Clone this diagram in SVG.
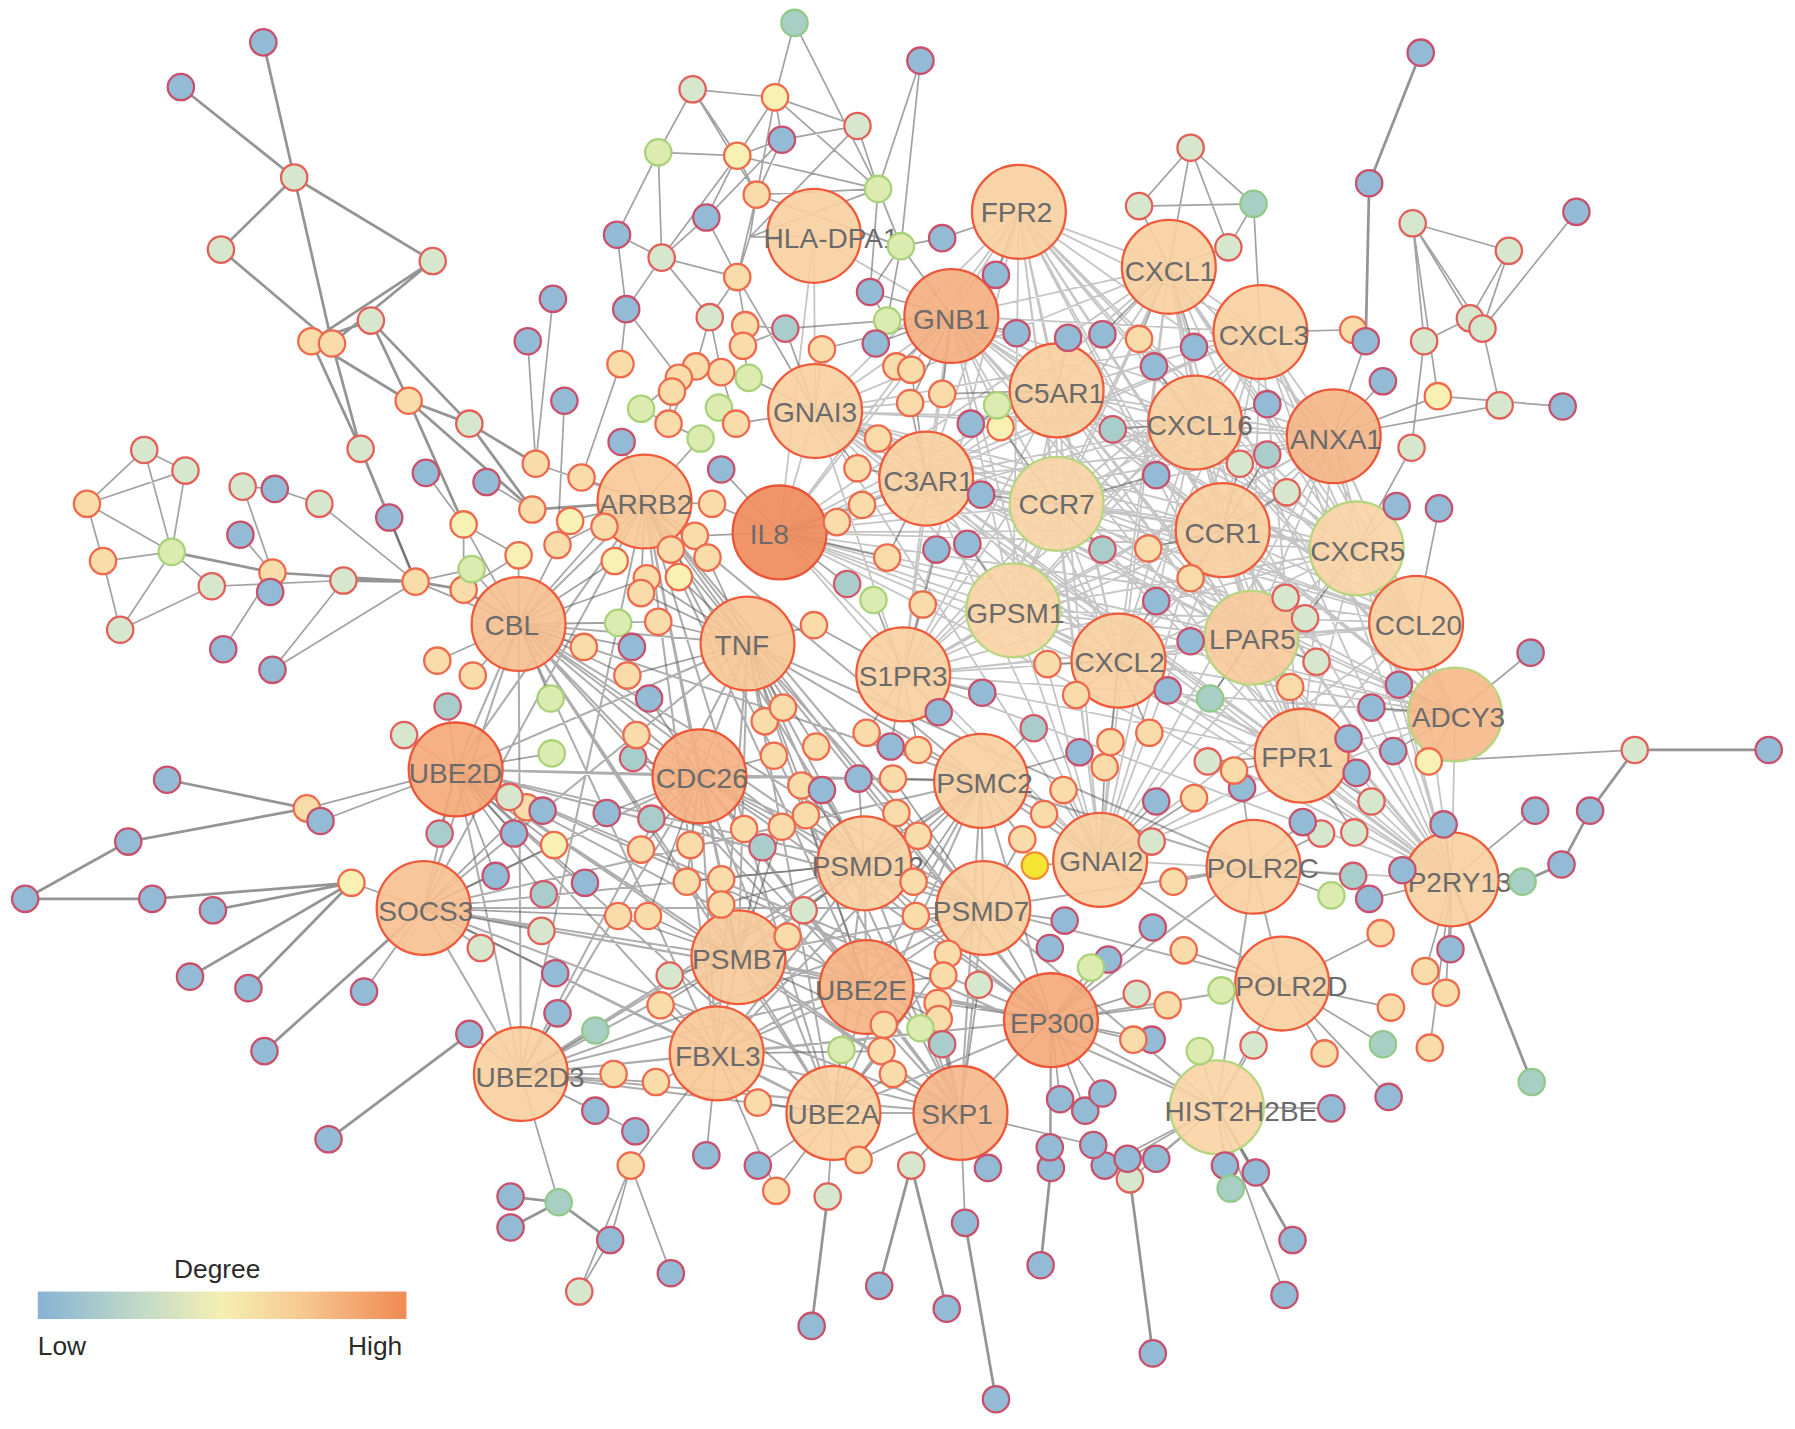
<svg xmlns="http://www.w3.org/2000/svg" width="1795" height="1429" viewBox="0 0 1795 1429">
<defs>
<linearGradient id="deg" x1="0" y1="0" x2="1" y2="0">
<stop offset="0" stop-color="#86b3d4"/><stop offset="0.3" stop-color="#c6dcc6"/><stop offset="0.5" stop-color="#f5efb2"/><stop offset="0.72" stop-color="#f6c890"/><stop offset="1" stop-color="#ef8a52"/>
</linearGradient>
<style>
.hh{fill:none;stroke:#4a4a4a;stroke-opacity:0.32;stroke-width:1.6}
.hu{fill:none;stroke:#4a4a4a;stroke-opacity:0.45;stroke-width:1.8}
.se{fill:none;stroke:#555;stroke-opacity:0.55;stroke-width:1.5}
.pe{fill:none;stroke:#5a5a5a;stroke-opacity:0.65;stroke-width:2.4}
.s{stroke-width:2}
.b{fill:#93bbd6;stroke:#c9506b}
.t{fill:#a9cdca;stroke:#d4586a}
.p{fill:#d7e7cd;stroke:#e2605a}
.g{fill:#dcecb0;stroke:#a9d27a}
.y{fill:#f9f0b4;stroke:#ef6a4a}
.o{fill:#f9dcaa;stroke:#ee6a4c}
.G{fill:#a8cfc4;stroke:#92c98a}
.Y{fill:#f5e434;stroke:#f0902c}
.h{fill:#f9cfa0;stroke:#ef5a3a;stroke-width:2;fill-opacity:0.9}
.hd{fill:#f5ae80;stroke:#ec5538;stroke-width:2;fill-opacity:0.9}
.hi{fill:#ef8c5c;stroke:#e8553a;stroke-width:2;fill-opacity:0.92}
.hg{fill:#f9d3a4;stroke:#b5d67e;stroke-width:2;fill-opacity:0.9}
.lb{font-family:"Liberation Sans",Arial,sans-serif;font-size:24.5px;fill:#6b6b6b;text-anchor:middle}
.lg{font-family:"Liberation Sans",Arial,sans-serif;font-size:23px;fill:#2a2a2a}
</style>
</defs>
<rect width="1795" height="1429" fill="#ffffff"/>
<g transform="scale(1.1448 1.145)">
<g id="connectors">
<path class="hh" d="M890 185L1021 233M890 185L831 276M890 185L1101 290M890 185L923 341M890 185L712 359M890 185L1044 369M890 185L1165 381M890 185L809 418M890 185L923 440M890 185L681 465M890 185L1068 463M890 185L1185 479M890 185L885 533M890 185L977 577M890 185L1093 557M890 185L1237 544M890 185L789 589M890 185L1271 624M890 185L1137 660M890 185L961 751M890 185L1268 768
M1021 233L831 276M1021 233L1101 290M1021 233L923 341M1021 233L712 359M1021 233L1044 369M1021 233L1165 381M1021 233L809 418M1021 233L923 440M1021 233L681 465M1021 233L1068 463M1021 233L1185 479M1021 233L885 533M1021 233L977 577M1021 233L1093 557M1021 233L1237 544M1021 233L789 589M1021 233L1271 624M1021 233L1137 660M1021 233L961 751M1021 233L1268 768
M831 276L1101 290M831 276L923 341M831 276L712 359M831 276L1044 369M831 276L1165 381M831 276L809 418M831 276L923 440M831 276L681 465M831 276L1068 463M831 276L1185 479M831 276L885 533M831 276L977 577M831 276L1093 557M831 276L1237 544M831 276L789 589M831 276L1271 624M831 276L1137 660M831 276L961 751M831 276L1268 768M831 276L711 206
M1101 290L923 341M1101 290L712 359M1101 290L1044 369M1101 290L1165 381M1101 290L809 418M1101 290L923 440M1101 290L681 465M1101 290L1068 463M1101 290L1185 479M1101 290L885 533M1101 290L977 577M1101 290L1093 557M1101 290L1237 544M1101 290L789 589M1101 290L1271 624M1101 290L1137 660M1101 290L961 751M1101 290L1268 768
M923 341L712 359M923 341L1044 369M923 341L1165 381M923 341L809 418M923 341L923 440M923 341L681 465M923 341L1068 463M923 341L1185 479M923 341L885 533M923 341L977 577M923 341L1093 557M923 341L1237 544M923 341L789 589M923 341L1271 624M923 341L1137 660M923 341L961 751M923 341L1268 768
M712 359L1044 369M712 359L1165 381M712 359L809 418M712 359L923 440M712 359L681 465M712 359L1068 463M712 359L1185 479M712 359L885 533M712 359L977 577M712 359L1093 557M712 359L1237 544M712 359L789 589M712 359L1271 624M712 359L1137 660M712 359L961 751M712 359L1268 768M712 359L711 206
M1044 369L1165 381M1044 369L809 418M1044 369L923 440M1044 369L681 465M1044 369L1068 463M1044 369L1185 479M1044 369L885 533M1044 369L977 577M1044 369L1093 557M1044 369L1237 544M1044 369L789 589M1044 369L1271 624M1044 369L1137 660M1044 369L961 751M1044 369L1268 768
M1165 381L809 418M1165 381L923 440M1165 381L681 465M1165 381L1068 463M1165 381L1185 479M1165 381L885 533M1165 381L977 577M1165 381L1093 557M1165 381L1237 544M1165 381L789 589M1165 381L1271 624M1165 381L1137 660M1165 381L961 751M1165 381L1268 768
M809 418L923 440M809 418L681 465M809 418L1068 463M809 418L1185 479M809 418L885 533M809 418L977 577M809 418L1093 557M809 418L1237 544M809 418L789 589M809 418L1271 624M809 418L1137 660M809 418L961 751M809 418L1268 768
M923 440L681 465M923 440L1068 463M923 440L1185 479M923 440L885 533M923 440L977 577M923 440L1093 557M923 440L1237 544M923 440L789 589M923 440L1271 624M923 440L1137 660M923 440L961 751M923 440L1268 768
M681 465L1068 463M681 465L1185 479M681 465L885 533M681 465L977 577M681 465L1093 557M681 465L1237 544M681 465L789 589M681 465L1271 624M681 465L1137 660M681 465L961 751M681 465L1268 768M681 465L711 206
M1068 463L1185 479M1068 463L885 533M1068 463L977 577M1068 463L1093 557M1068 463L1237 544M1068 463L789 589M1068 463L1271 624M1068 463L1137 660M1068 463L961 751M1068 463L1268 768
M1185 479L885 533M1185 479L977 577M1185 479L1093 557M1185 479L1237 544M1185 479L789 589M1185 479L1271 624M1185 479L1137 660M1185 479L961 751M1185 479L1268 768
M885 533L977 577M885 533L1093 557M885 533L1237 544M885 533L789 589M885 533L1271 624M885 533L1137 660M885 533L961 751M885 533L1268 768
M977 577L1093 557M977 577L1237 544M977 577L789 589M977 577L1271 624M977 577L1137 660M977 577L961 751M977 577L1268 768
M1093 557L1237 544M1093 557L789 589M1093 557L1271 624M1093 557L1137 660M1093 557L961 751M1093 557L1268 768
M1237 544L789 589M1237 544L1271 624M1237 544L1137 660M1237 544L961 751M1237 544L1268 768
M789 589L1271 624M789 589L1137 660M789 589L961 751M789 589L1268 768M1271 624L1137 660M1271 624L961 751M1271 624L1268 768M1137 660L961 751M1137 660L1268 768M961 751L1268 768"/>
<path class="hu" d="M563 438L453 545M563 438L653 562M563 438L398 672M563 438L611 678M563 438L857 682M563 438L755 754M563 438L370 793M563 438L859 793M563 438L645 836M563 438L757 862M563 438L918 891M563 438L626 920M563 438L455 938M563 438L728 972M563 438L839 972
M453 545L653 562M453 545L398 672M453 545L611 678M453 545L857 682M453 545L755 754M453 545L370 793M453 545L859 793M453 545L645 836M453 545L757 862M453 545L918 891M453 545L626 920M453 545L455 938M453 545L728 972M453 545L839 972
M653 562L398 672M653 562L611 678M653 562L857 682M653 562L755 754M653 562L370 793M653 562L859 793M653 562L645 836M653 562L757 862M653 562L918 891M653 562L626 920M653 562L455 938M653 562L728 972M653 562L839 972M653 562L1095 757
M398 672L611 678M398 672L857 682M398 672L755 754M398 672L370 793M398 672L859 793M398 672L645 836M398 672L757 862M398 672L918 891M398 672L626 920M398 672L455 938M398 672L728 972M398 672L839 972M398 672L1063 967
M611 678L857 682M611 678L755 754M611 678L370 793M611 678L859 793M611 678L645 836M611 678L757 862M611 678L918 891M611 678L626 920M611 678L455 938M611 678L728 972M611 678L839 972
M857 682L755 754M857 682L370 793M857 682L859 793M857 682L645 836M857 682L757 862M857 682L918 891M857 682L626 920M857 682L455 938M857 682L728 972M857 682L839 972M857 682L1095 757M857 682L1120 859
M755 754L370 793M755 754L859 793M755 754L645 836M755 754L757 862M755 754L918 891M755 754L626 920M755 754L455 938M755 754L728 972M755 754L839 972
M370 793L859 793M370 793L645 836M370 793L757 862M370 793L918 891M370 793L626 920M370 793L455 938M370 793L728 972M370 793L839 972
M859 793L645 836M859 793L757 862M859 793L918 891M859 793L626 920M859 793L455 938M859 793L728 972M859 793L839 972M859 793L1095 757M859 793L1120 859M859 793L1063 967
M645 836L757 862M645 836L918 891M645 836L626 920M645 836L455 938M645 836L728 972M645 836L839 972M757 862L918 891M757 862L626 920M757 862L455 938M757 862L728 972M757 862L839 972
M918 891L626 920M918 891L455 938M918 891L728 972M918 891L839 972M918 891L1095 757M918 891L1120 859M918 891L1063 967M626 920L455 938M626 920L728 972M626 920L839 972M455 938L728 972M455 938L839 972M728 972L839 972M1095 757L1120 859M1095 757L1063 967M1120 859L1063 967"/>
<path class="pe" d="M230 37L257 155M158 76L257 155M257 155L193 218M257 155L378 228M257 155L290 300M193 218L290 300M378 228L272 298M378 228L290 300M324 280L272 298M324 280L357 350M324 280L410 370M272 298L357 350M290 300L315 392M272 298L315 392M357 350L410 370M357 350L405 458M410 370L468 405M315 392L363 508M315 392L340 452M357 350L465 445M410 370L465 445M150 482L238 500M238 500L363 508M300 507L363 508M363 508L405 515M405 515L453 545M465 445L563 438M1428 655L1545 655M1428 655L1389 708M1389 708L1364 755M1364 755L1330 770M1241 46L1196 160M1196 160L1193 298M870 1222L843 1068M827 1143L796 1018M709 1158L723 1045M1007 1182L987 1030M909 1105L918 1020M488 1050L446 1045M488 1050L446 1072M488 1050L533 1083M307 771L133 785M22 785L133 785M307 771L186 795M307 771L166 853M307 771L217 863M268 706L146 681M268 706L112 735M112 735L22 785M287 995L410 903M231 918L370 793M1129 1083L1063 967M768 1123L796 1018M1338 945L1268 768"/>
<path class="se" d="M126 393L162 411M126 393L76 440M76 440L90 490M76 440L150 482M162 411L150 482M90 490L150 482M90 490L105 550M150 482L105 550M126 393L150 482M162 411L76 440M150 482L185 512M105 550L185 512M212 425L238 500M212 425L240 427M210 467L238 500M185 512L300 507M279 440L363 508M195 567L238 500M238 585L300 507M238 585L363 508M240 427L279 440M372 413L405 458M340 452L363 508M425 421L465 445M363 508L412 497M412 497L453 545M405 458L453 485M453 485L453 545M487 476L563 438M468 405L563 438M461 298L468 405M493 350L487 476M483 261L468 405M405 515L453 485M405 458L405 515M363 508L453 545M405 458L453 545
M694 20L677 85M694 20L767 165M804 53L767 165M804 53L787 215M605 78L677 85M605 78L575 133M605 78L644 136M605 78L661 170M677 85L749 110M677 85L644 136M677 85L683 122M677 85L661 170M677 85L767 165M749 110L683 122M749 110L767 165M749 110L655 207M683 122L644 136M683 122L661 170M683 122L617 190M575 133L644 136M575 133L578 225M575 133L539 205M644 136L661 170M644 136L617 190M644 136L767 165M644 136L578 225M661 170L655 207M661 170L767 165M661 170L644 242M661 170L787 215M767 165L787 215M767 165L760 255M767 165L655 207M787 215L823 208M787 215L775 280M787 215L831 276M787 215L760 255M823 208L890 185M578 225L620 277M578 225L644 242M578 225L547 270M617 190L644 242M617 190L578 225M539 205L578 225M539 205L547 270M655 207L644 242M655 207L711 206M644 242L651 284M644 242L620 277M644 242L712 359M760 255L775 280M760 255L831 276M775 280L831 276M775 280L686 287M686 287L651 284M686 287L649 302M686 287L712 359M620 277L630 325M620 277L608 320M547 270L542 318M547 270L593 330M651 284L649 302M649 302L654 330M654 330L712 359M630 325L643 370M608 320L584 370M593 330L560 357M587 342L584 370M560 357L584 370M584 370L612 383M612 383L563 438M628 356L643 370M643 370L712 359M718 305L712 359M718 305L831 276M765 300L831 276M783 320L831 276M796 323L809 418M542 318L508 417M543 386L563 438M508 417L563 438M528 460L563 438M498 455L563 438M630 410L681 465M622 440L681 465M607 468L681 465M618 487L653 562M593 504L653 562M537 490L453 545M586 480L563 438M565 505L453 545M560 518L653 562M575 543L653 562M540 544L453 545M552 565L453 545M510 565L453 545M548 590L653 562M567 610L611 678M481 610L453 545M413 590L453 545M382 577L453 545M391 617L398 672M353 642L398 672M482 658L398 672M553 662L611 678M556 642L611 678M460 705L398 672M484 738L398 672M449 728L398 672M530 710L611 678M569 715L611 678M560 742L611 678M603 738L611 678M630 768L645 836M668 630L653 562M684 618L653 562M676 660L611 678M700 686L755 754M704 712L755 754M683 722L611 678M650 724L611 678M666 740L645 836M718 690L755 754M750 680L755 754M780 680L857 682M802 655L789 589M778 652L789 589M820 622L789 589M757 640L789 589M713 652L653 562M711 546L653 562M731 456L681 465M740 510L681 465M763 524L789 589M775 487L809 418M753 441L809 418M749 409L809 418M767 383L809 418M795 352L831 276M823 344L923 341M848 370L923 341M874 373L923 440M871 354L923 341M888 291L831 276M870 240L890 185M933 295L923 341M963 292L1021 233M995 296L1021 233M1008 320L1044 369M972 375L1044 369M1043 303L1021 233M1073 216L1021 233M1095 178L1073 216M1095 178L1040 129M995 180L1040 129M995 180L1021 233M1040 129L1021 233M1073 216L1040 129M1095 178L1101 290M995 180L1095 178M1182 288L1101 290M1234 195L1318 219M1234 195L1284 278M1234 195L1295 287M1234 195L1244 298M1234 195L1256 346M1318 219L1295 287M1377 185L1295 287M1318 219L1284 278M1284 278L1244 298M1295 287L1310 354M1244 298L1233 391M1193 298L1165 381M1208 333L1165 381M1256 346L1165 381M1310 354L1165 381M1365 355L1256 346M1233 391L1185 479M1220 442L1185 479M1257 444L1237 544M1107 353L1044 369M1107 397L1068 463M1124 430L1068 463M1010 415L923 440M963 480L923 440M1003 479L1068 463M1083 405L1068 463M857 432L923 440M845 475L885 533M818 480L789 589M806 528L789 589M915 580L977 577M858 605L789 589M903 636L857 682M940 607L977 577M943 657L857 682M929 690L961 751M965 670L961 751M970 648L977 577M1004 640L977 577M1020 603L977 577M1057 610L1093 557M1040 560L1093 557M1040 505L1068 463M1010 525L977 577M1150 578L1093 557M1127 600L1137 660M1123 522L1093 557M1140 540L1185 479M1222 598L1271 624M1198 618L1271 624M1178 645L1137 660M1217 656L1271 624M1185 675L1137 660M1248 665L1271 624M1337 570L1271 624M1428 655L1248 665M1341 708L1268 768M1330 770L1268 768M1261 720L1268 768M1225 760L1268 768M1196 785L1268 768M1182 765L1095 757M1163 782L1095 757M1183 727L1137 660M1198 700L1137 660M1154 728L1095 757M1138 718L1095 757M1085 688L1095 757M1055 665L1137 660M1078 673L1137 660M1043 697L961 751M1010 700L961 751M1006 735L961 751M1025 770L1095 757M1007 810L918 891M1034 830L1120 859M1067 865L1120 859M1048 918L1063 967M1095 913L1063 967M1020 878L918 891M1006 908L918 891M990 908L918 891M993 868L918 891M968 838L918 891M953 845L918 891M930 804L859 793M917 828L859 793M904 756L961 751M893 733L859 793M912 711L857 682M800 800L755 754M798 770L755 754M802 730L755 754M783 710L755 754M828 833L859 793M824 852L757 862M819 876L839 972M820 890L757 862M804 898L757 862M823 912L839 972M855 860L839 972M772 895L757 862M770 918L728 972M780 938L728 972M735 917L728 972M750 1013L728 972M796 1018L839 972M843 1068L839 972M863 1020L839 972M918 1020L918 891M917 1002L918 891M926 960L918 891M948 970L918 891M963 955L918 891M965 1018L1063 967M987 1030L1063 967M985 1012L1063 967M955 1000L839 972M1010 1012L1063 967M1070 1018L1063 967M1097 1024L1063 967M1075 1038L1063 967M1122 1131L1063 967M723 1045L728 972M678 1040L728 972M662 1018L728 972M617 1009L626 920M662 963L626 920M555 988L455 938M551 1018L626 920M573 945L626 920M536 938L455 938M520 970L455 938M520 900L455 938M487 885L455 938M485 850L370 793M410 903L455 938M420 828L370 793M473 813L370 793M433 765L398 672M475 781L398 672M511 771L398 672M540 800L645 836M566 800L645 836M577 878L645 836M585 852L645 836M600 770L611 678M630 790L645 836M702 795L755 754M688 818L645 836M488 1050L455 938M533 1083L506 1128M506 1128L551 1018M586 1112L551 1018M533 1083L551 1018M307 771L370 793M268 706L398 672M280 717L398 672M318 866L370 793M445 696L398 672M474 708L398 672M384 728L398 672M1215 880L1120 859M1213 958L1120 859M1208 912L1120 859M1249 915L1268 768M1263 867L1268 768M1245 848L1268 768M1267 829L1268 768M1206 815L1120 859M1157 920L1120 859M1163 968L1063 967
M700 686L653 562M704 712L757 862M683 722L645 836M780 680L859 793M802 655L857 682M775 487L681 465M753 441L681 465M749 409L712 359M767 383L712 359M795 352L809 418M823 344L831 276M711 546L789 589M893 733L857 682M912 711L961 751M800 800L859 793M798 770L857 682M802 730L857 682M824 852L859 793M819 876L918 891M820 890L839 972M772 895L645 836M770 918L626 920M780 938L839 972M750 1013L839 972M678 1040L626 920M662 963L728 972M573 945L455 938M540 800L370 793M566 800L611 678M577 878L626 920M600 770L755 754M630 790L755 754M484 738L370 793M460 705L370 793M548 590L453 545M575 543L453 545M560 518L563 438M593 504L563 438M618 487L563 438M607 468L563 438M622 440L563 438M586 480L653 562M565 505L653 562M528 460L453 545M498 455L453 545"/>
</g>
<g id="hubs">
<g id="HLA-DPA1"><circle class="h" cx="711" cy="206" r="41"/><text class="lb" x="726" y="217">HLA-DPA1</text></g>
<g id="FPR2"><circle class="h" cx="890" cy="185" r="41"/><text class="lb" x="888" y="194">FPR2</text></g>
<g id="CXCL1"><circle class="h" cx="1021" cy="233" r="41"/><text class="lb" x="1022" y="245">CXCL1</text></g>
<g id="GNB1"><circle class="hd" cx="831" cy="276" r="41"/><text class="lb" x="831" y="287">GNB1</text></g>
<g id="CXCL3"><circle class="h" cx="1101" cy="290" r="41"/><text class="lb" x="1104" y="301">CXCL3</text></g>
<g id="C5AR1"><circle class="h" cx="923" cy="341" r="41"/><text class="lb" x="925" y="352">C5AR1</text></g>
<g id="GNAI3"><circle class="h" cx="712" cy="359" r="41"/><text class="lb" x="712" y="369">GNAI3</text></g>
<g id="CXCL16"><circle class="h" cx="1044" cy="369" r="41"/><text class="lb" x="1048" y="380">CXCL16</text></g>
<g id="ANXA1"><circle class="hd" cx="1165" cy="381" r="41" style="fill:#f5b585"/><text class="lb" x="1167" y="392">ANXA1</text></g>
<g id="C3AR1"><circle class="h" cx="809" cy="418" r="41"/><text class="lb" x="811" y="429">C3AR1</text></g>
<g id="CCR7"><circle class="hg" cx="923" cy="440" r="41"/><text class="lb" x="923" y="449">CCR7</text></g>
<g id="ARRB2"><circle class="h" cx="563" cy="438" r="41" style="fill:#f8c896"/><text class="lb" x="564" y="449">ARRB2</text></g>
<g id="IL8"><circle class="hi" cx="681" cy="465" r="41"/><text class="lb" x="672" y="475">IL8</text></g>
<g id="CCR1"><circle class="h" cx="1068" cy="463" r="41"/><text class="lb" x="1068" y="474">CCR1</text></g>
<g id="CXCR5"><circle class="hg" cx="1185" cy="479" r="41"/><text class="lb" x="1186" y="490">CXCR5</text></g>
<g id="GPSM1"><circle class="hg" cx="885" cy="533" r="41"/><text class="lb" x="887" y="544">GPSM1</text></g>
<g id="CBL"><circle class="h" cx="453" cy="545" r="41" style="fill:#f7bf8f"/><text class="lb" x="447" y="555">CBL</text></g>
<g id="TNF"><circle class="h" cx="653" cy="562" r="41" style="fill:#f8c796"/><text class="lb" x="648" y="572">TNF</text></g>
<g id="CXCL2"><circle class="h" cx="977" cy="577" r="41"/><text class="lb" x="978" y="587">CXCL2</text></g>
<g id="LPAR5"><circle class="hg" cx="1093" cy="557" r="41" style="fill:#f8c99a"/><text class="lb" x="1094" y="567">LPAR5</text></g>
<g id="CCL20"><circle class="h" cx="1237" cy="544" r="41"/><text class="lb" x="1239" y="555">CCL20</text></g>
<g id="S1PR3"><circle class="h" cx="789" cy="589" r="41"/><text class="lb" x="789" y="599">S1PR3</text></g>
<g id="ADCY3"><circle class="hg" cx="1271" cy="624" r="41" style="fill:#f6b888"/><text class="lb" x="1274" y="635">ADCY3</text></g>
<g id="UBE2D1"><circle class="hd" cx="398" cy="672" r="41" style="fill:#f4a877"/><text class="lb" x="398" y="684">UBE2D</text></g>
<g id="CDC26"><circle class="hd" cx="611" cy="678" r="41" style="fill:#f5b080"/><text class="lb" x="613" y="688">CDC26</text></g>
<g id="PSMC2"><circle class="h" cx="857" cy="682" r="41"/><text class="lb" x="860" y="693">PSMC2</text></g>
<g id="FPR1"><circle class="h" cx="1137" cy="660" r="41"/><text class="lb" x="1133" y="670">FPR1</text></g>
<g id="GNAI2"><circle class="h" cx="961" cy="751" r="41"/><text class="lb" x="962" y="761">GNAI2</text></g>
<g id="PSMD12"><circle class="h" cx="755" cy="754" r="41"/><text class="lb" x="758" y="765">PSMD12</text></g>
<g id="POLR2C"><circle class="h" cx="1095" cy="757" r="41"/><text class="lb" x="1103" y="767">POLR2C</text></g>
<g id="P2RY13"><circle class="h" cx="1268" cy="768" r="41"/><text class="lb" x="1275" y="779">P2RY13</text></g>
<g id="SOCS3"><circle class="h" cx="370" cy="793" r="41" style="fill:#f8c090"/><text class="lb" x="372" y="804">SOCS3</text></g>
<g id="PSMD7"><circle class="h" cx="859" cy="793" r="41"/><text class="lb" x="857" y="804">PSMD7</text></g>
<g id="PSMB7"><circle class="h" cx="645" cy="836" r="41" style="fill:#f8c898"/><text class="lb" x="646" y="846">PSMB7</text></g>
<g id="UBE2E1"><circle class="hd" cx="757" cy="862" r="41" style="fill:#f5b282"/><text class="lb" x="752" y="873">UBE2E</text></g>
<g id="POLR2D"><circle class="h" cx="1120" cy="859" r="41"/><text class="lb" x="1128" y="870">POLR2D</text></g>
<g id="EP300"><circle class="hd" cx="918" cy="891" r="41" style="fill:#f4a878"/><text class="lb" x="919" y="902">EP300</text></g>
<g id="FBXL3"><circle class="h" cx="626" cy="920" r="41" style="fill:#f8c896"/><text class="lb" x="627" y="931">FBXL3</text></g>
<g id="UBE2D3"><circle class="h" cx="455" cy="938" r="41"/><text class="lb" x="463" y="949">UBE2D3</text></g>
<g id="UBE2A"><circle class="h" cx="728" cy="972" r="41"/><text class="lb" x="728" y="982">UBE2A</text></g>
<g id="SKP1"><circle class="hd" cx="839" cy="972" r="41" style="fill:#f6b688"/><text class="lb" x="836" y="982">SKP1</text></g>
<g id="HIST2H2BE"><circle class="hg" cx="1063" cy="967" r="41"/><text class="lb" x="1084" y="979">HIST2H2BE</text></g>
</g>
<g id="nodes" class="s">
<circle id="n1" class="b" cx="230" cy="37" r="11.5"/><circle id="n2" class="b" cx="158" cy="76" r="11.5"/><circle id="n3" class="p" cx="257" cy="155" r="11.5"/><circle id="n4" class="p" cx="193" cy="218" r="11.5"/><circle id="n5" class="p" cx="378" cy="228" r="11.5"/><circle id="n6" class="p" cx="324" cy="280" r="11.5"/><circle id="n7" class="o" cx="272" cy="298" r="11.5"/><circle id="n8" class="o" cx="290" cy="300" r="11.5"/><circle id="n9" class="o" cx="357" cy="350" r="11.5"/><circle id="n10" class="p" cx="410" cy="370" r="11.5"/>
<circle id="n11" class="p" cx="315" cy="392" r="11.5"/><circle id="n12" class="p" cx="126" cy="393" r="11.5"/><circle id="n13" class="p" cx="162" cy="411" r="11.5"/><circle id="n14" class="o" cx="76" cy="440" r="11.5"/><circle id="n15" class="o" cx="90" cy="490" r="11.5"/><circle id="n16" class="g" cx="150" cy="482" r="11.5"/><circle id="n17" class="p" cx="105" cy="550" r="11.5"/><circle id="n18" class="p" cx="212" cy="425" r="11.5"/><circle id="n19" class="b" cx="240" cy="427" r="11.5"/><circle id="n20" class="b" cx="210" cy="467" r="11.5"/>
<circle id="n21" class="p" cx="185" cy="512" r="11.5"/><circle id="n22" class="o" cx="238" cy="500" r="11.5"/><circle id="n23" class="b" cx="236" cy="517" r="11.5"/><circle id="n24" class="p" cx="279" cy="440" r="11.5"/><circle id="n25" class="p" cx="300" cy="507" r="11.5"/><circle id="n26" class="b" cx="195" cy="567" r="11.5"/><circle id="n27" class="b" cx="238" cy="585" r="11.5"/><circle id="n28" class="b" cx="340" cy="452" r="11.5"/><circle id="n29" class="b" cx="372" cy="413" r="11.5"/><circle id="n30" class="b" cx="425" cy="421" r="11.5"/>
<circle id="n31" class="o" cx="468" cy="405" r="11.5"/><circle id="n32" class="y" cx="405" cy="458" r="11.5"/><circle id="n33" class="o" cx="405" cy="515" r="11.5"/><circle id="n34" class="o" cx="363" cy="508" r="11.5"/><circle id="n35" class="g" cx="412" cy="497" r="11.5"/><circle id="n36" class="y" cx="453" cy="485" r="11.5"/><circle id="n37" class="o" cx="465" cy="445" r="11.5"/><circle id="n38" class="o" cx="487" cy="476" r="11.5"/><circle id="n39" class="b" cx="461" cy="298" r="11.5"/><circle id="n40" class="b" cx="493" cy="350" r="11.5"/>
<circle id="n41" class="b" cx="483" cy="261" r="11.5"/><circle id="n42" class="G" cx="694" cy="20" r="11.5"/><circle id="n43" class="b" cx="804" cy="53" r="11.5"/><circle id="n44" class="p" cx="605" cy="78" r="11.5"/><circle id="n45" class="y" cx="677" cy="85" r="11.5"/><circle id="n46" class="p" cx="749" cy="110" r="11.5"/><circle id="n47" class="b" cx="683" cy="122" r="11.5"/><circle id="n48" class="g" cx="575" cy="133" r="11.5"/><circle id="n49" class="y" cx="644" cy="136" r="11.5"/><circle id="n50" class="o" cx="661" cy="170" r="11.5"/>
<circle id="n51" class="g" cx="767" cy="165" r="11.5"/><circle id="n52" class="b" cx="617" cy="190" r="11.5"/><circle id="n53" class="b" cx="539" cy="205" r="11.5"/><circle id="n55" class="g" cx="787" cy="215" r="11.5"/><circle id="n56" class="b" cx="823" cy="208" r="11.5"/><circle id="n57" class="p" cx="578" cy="225" r="11.5"/><circle id="n58" class="o" cx="644" cy="242" r="11.5"/><circle id="n59" class="b" cx="760" cy="255" r="11.5"/><circle id="n60" class="g" cx="775" cy="280" r="11.5"/>
<circle id="n61" class="t" cx="686" cy="287" r="11.5"/><circle id="n62" class="p" cx="620" cy="277" r="11.5"/><circle id="n63" class="b" cx="547" cy="270" r="11.5"/><circle id="n64" class="o" cx="651" cy="284" r="11.5"/><circle id="n65" class="o" cx="649" cy="302" r="11.5"/><circle id="n66" class="g" cx="654" cy="330" r="11.5"/><circle id="n67" class="o" cx="630" cy="325" r="11.5"/><circle id="n68" class="o" cx="608" cy="320" r="11.5"/><circle id="n69" class="o" cx="593" cy="330" r="11.5"/><circle id="n70" class="o" cx="587" cy="342" r="11.5"/>
<circle id="n71" class="g" cx="560" cy="357" r="11.5"/><circle id="n72" class="o" cx="584" cy="370" r="11.5"/><circle id="n73" class="g" cx="612" cy="383" r="11.5"/><circle id="n74" class="g" cx="628" cy="356" r="11.5"/><circle id="n75" class="o" cx="643" cy="370" r="11.5"/><circle id="n76" class="o" cx="718" cy="305" r="11.5"/><circle id="n77" class="b" cx="765" cy="300" r="11.5"/><circle id="n78" class="o" cx="783" cy="320" r="11.5"/><circle id="n79" class="o" cx="796" cy="323" r="11.5"/><circle id="n80" class="o" cx="542" cy="318" r="11.5"/>
<circle id="n81" class="b" cx="543" cy="386" r="11.5"/><circle id="n82" class="o" cx="508" cy="417" r="11.5"/><circle id="n83" class="o" cx="528" cy="460" r="11.5"/><circle id="n84" class="y" cx="498" cy="455" r="11.5"/><circle id="n85" class="b" cx="630" cy="410" r="11.5"/><circle id="n86" class="o" cx="622" cy="440" r="11.5"/><circle id="n87" class="o" cx="607" cy="468" r="11.5"/><circle id="n88" class="o" cx="618" cy="487" r="11.5"/><circle id="n89" class="y" cx="593" cy="504" r="11.5"/><circle id="n90" class="y" cx="537" cy="490" r="11.5"/>
<circle id="n91" class="o" cx="586" cy="480" r="11.5"/><circle id="n92" class="o" cx="565" cy="505" r="11.5"/><circle id="n93" class="o" cx="560" cy="518" r="11.5"/><circle id="n94" class="o" cx="575" cy="543" r="11.5"/><circle id="n95" class="g" cx="540" cy="544" r="11.5"/><circle id="n96" class="b" cx="552" cy="565" r="11.5"/><circle id="n97" class="o" cx="510" cy="565" r="11.5"/><circle id="n98" class="o" cx="548" cy="590" r="11.5"/><circle id="n99" class="b" cx="567" cy="610" r="11.5"/><circle id="n100" class="g" cx="481" cy="610" r="11.5"/>
<circle id="n101" class="o" cx="413" cy="590" r="11.5"/><circle id="n102" class="o" cx="382" cy="577" r="11.5"/><circle id="n103" class="t" cx="391" cy="617" r="11.5"/><circle id="n104" class="p" cx="353" cy="642" r="11.5"/><circle id="n105" class="g" cx="482" cy="658" r="11.5"/><circle id="n106" class="t" cx="553" cy="662" r="11.5"/><circle id="n107" class="o" cx="556" cy="642" r="11.5"/><circle id="n108" class="o" cx="460" cy="705" r="11.5"/><circle id="n109" class="y" cx="484" cy="738" r="11.5"/><circle id="n110" class="b" cx="449" cy="728" r="11.5"/>
<circle id="n111" class="b" cx="530" cy="710" r="11.5"/><circle id="n112" class="t" cx="569" cy="715" r="11.5"/><circle id="n113" class="o" cx="560" cy="742" r="11.5"/><circle id="n114" class="o" cx="603" cy="738" r="11.5"/><circle id="n115" class="o" cx="630" cy="768" r="11.5"/><circle id="n116" class="o" cx="668" cy="630" r="11.5"/><circle id="n117" class="o" cx="684" cy="618" r="11.5"/><circle id="n118" class="o" cx="676" cy="660" r="11.5"/><circle id="n119" class="o" cx="700" cy="686" r="11.5"/><circle id="n120" class="o" cx="704" cy="712" r="11.5"/>
<circle id="n121" class="o" cx="683" cy="722" r="11.5"/><circle id="n122" class="o" cx="650" cy="724" r="11.5"/><circle id="n123" class="t" cx="666" cy="740" r="11.5"/><circle id="n124" class="b" cx="718" cy="690" r="11.5"/><circle id="n125" class="b" cx="750" cy="680" r="11.5"/><circle id="n126" class="o" cx="780" cy="680" r="11.5"/><circle id="n127" class="o" cx="802" cy="655" r="11.5"/><circle id="n128" class="b" cx="778" cy="652" r="11.5"/><circle id="n129" class="b" cx="820" cy="622" r="11.5"/><circle id="n130" class="o" cx="757" cy="640" r="11.5"/>
<circle id="n131" class="o" cx="713" cy="652" r="11.5"/><circle id="n132" class="o" cx="711" cy="546" r="11.5"/><circle id="n133" class="o" cx="731" cy="456" r="11.5"/><circle id="n134" class="t" cx="740" cy="510" r="11.5"/><circle id="n135" class="g" cx="763" cy="524" r="11.5"/><circle id="n136" class="o" cx="775" cy="487" r="11.5"/><circle id="n137" class="o" cx="753" cy="441" r="11.5"/><circle id="n138" class="o" cx="749" cy="409" r="11.5"/><circle id="n139" class="o" cx="767" cy="383" r="11.5"/><circle id="n140" class="o" cx="795" cy="352" r="11.5"/>
<circle id="n141" class="o" cx="823" cy="344" r="11.5"/><circle id="n142" class="b" cx="848" cy="370" r="11.5"/><circle id="n143" class="y" cx="874" cy="373" r="11.5"/><circle id="n144" class="g" cx="871" cy="354" r="11.5"/><circle id="n145" class="b" cx="888" cy="291" r="11.5"/><circle id="n147" class="b" cx="870" cy="240" r="11.5"/><circle id="n148" class="b" cx="933" cy="295" r="11.5"/><circle id="n149" class="b" cx="963" cy="292" r="11.5"/><circle id="n150" class="o" cx="995" cy="296" r="11.5"/>
<circle id="n151" class="b" cx="1008" cy="320" r="11.5"/><circle id="n152" class="t" cx="972" cy="375" r="11.5"/><circle id="n153" class="b" cx="1043" cy="303" r="11.5"/><circle id="n154" class="p" cx="1073" cy="216" r="11.5"/><circle id="n155" class="G" cx="1095" cy="178" r="11.5"/><circle id="n156" class="p" cx="995" cy="180" r="11.5"/><circle id="n157" class="p" cx="1040" cy="129" r="11.5"/><circle id="n158" class="o" cx="1182" cy="288" r="11.5"/><circle id="n159" class="b" cx="1196" cy="160" r="11.5"/><circle id="n160" class="b" cx="1241" cy="46" r="11.5"/>
<circle id="n161" class="p" cx="1234" cy="195" r="11.5"/><circle id="n162" class="p" cx="1318" cy="219" r="11.5"/><circle id="n163" class="b" cx="1377" cy="185" r="11.5"/><circle id="n164" class="p" cx="1284" cy="278" r="11.5"/><circle id="n165" class="p" cx="1295" cy="287" r="11.5"/><circle id="n166" class="p" cx="1244" cy="298" r="11.5"/><circle id="n167" class="b" cx="1193" cy="298" r="11.5"/><circle id="n168" class="b" cx="1208" cy="333" r="11.5"/><circle id="n169" class="y" cx="1256" cy="346" r="11.5"/><circle id="n170" class="p" cx="1310" cy="354" r="11.5"/>
<circle id="n171" class="b" cx="1365" cy="355" r="11.5"/><circle id="n172" class="p" cx="1233" cy="391" r="11.5"/><circle id="n173" class="b" cx="1220" cy="442" r="11.5"/><circle id="n174" class="b" cx="1257" cy="444" r="11.5"/><circle id="n175" class="b" cx="1107" cy="353" r="11.5"/><circle id="n176" class="t" cx="1107" cy="397" r="11.5"/><circle id="n177" class="p" cx="1124" cy="430" r="11.5"/><circle id="n179" class="b" cx="1010" cy="415" r="11.5"/><circle id="n180" class="t" cx="963" cy="480" r="11.5"/>
<circle id="n181" class="o" cx="1003" cy="479" r="11.5"/><circle id="n182" class="p" cx="1083" cy="405" r="11.5"/><circle id="n183" class="b" cx="857" cy="432" r="11.5"/><circle id="n184" class="b" cx="845" cy="475" r="11.5"/><circle id="n185" class="b" cx="818" cy="480" r="11.5"/><circle id="n186" class="o" cx="806" cy="528" r="11.5"/><circle id="n187" class="o" cx="915" cy="580" r="11.5"/><circle id="n188" class="b" cx="858" cy="605" r="11.5"/><circle id="n189" class="t" cx="903" cy="636" r="11.5"/><circle id="n190" class="o" cx="940" cy="607" r="11.5"/>
<circle id="n191" class="b" cx="943" cy="657" r="11.5"/><circle id="n192" class="o" cx="929" cy="690" r="11.5"/><circle id="n193" class="o" cx="965" cy="670" r="11.5"/><circle id="n194" class="o" cx="970" cy="648" r="11.5"/><circle id="n195" class="o" cx="1004" cy="640" r="11.5"/><circle id="n196" class="b" cx="1020" cy="603" r="11.5"/><circle id="n197" class="G" cx="1057" cy="610" r="11.5"/><circle id="n199" class="b" cx="1040" cy="560" r="11.5"/><circle id="n200" class="o" cx="1040" cy="505" r="11.5"/>
<circle id="n201" class="b" cx="1010" cy="525" r="11.5"/><circle id="n202" class="p" cx="1150" cy="578" r="11.5"/><circle id="n203" class="o" cx="1127" cy="600" r="11.5"/><circle id="n204" class="p" cx="1123" cy="522" r="11.5"/><circle id="n205" class="p" cx="1140" cy="540" r="11.5"/><circle id="n207" class="b" cx="1222" cy="598" r="11.5"/><circle id="n208" class="b" cx="1198" cy="618" r="11.5"/><circle id="n209" class="b" cx="1178" cy="645" r="11.5"/><circle id="n210" class="b" cx="1217" cy="656" r="11.5"/>
<circle id="n211" class="b" cx="1185" cy="675" r="11.5"/><circle id="n212" class="y" cx="1248" cy="665" r="11.5"/><circle id="n213" class="b" cx="1337" cy="570" r="11.5"/><circle id="n214" class="p" cx="1428" cy="655" r="11.5"/><circle id="n215" class="b" cx="1545" cy="655" r="11.5"/><circle id="n216" class="b" cx="1389" cy="708" r="11.5"/><circle id="n217" class="b" cx="1341" cy="708" r="11.5"/><circle id="n218" class="b" cx="1364" cy="755" r="11.5"/><circle id="n219" class="G" cx="1330" cy="770" r="11.5"/><circle id="n220" class="b" cx="1261" cy="720" r="11.5"/>
<circle id="n221" class="b" cx="1225" cy="760" r="11.5"/><circle id="n222" class="b" cx="1196" cy="785" r="11.5"/><circle id="n223" class="t" cx="1182" cy="765" r="11.5"/><circle id="n224" class="g" cx="1163" cy="782" r="11.5"/><circle id="n225" class="p" cx="1183" cy="727" r="11.5"/><circle id="n226" class="p" cx="1198" cy="700" r="11.5"/><circle id="n227" class="p" cx="1154" cy="728" r="11.5"/><circle id="n228" class="b" cx="1138" cy="718" r="11.5"/><circle id="n229" class="b" cx="1085" cy="688" r="11.5"/><circle id="n230" class="p" cx="1055" cy="665" r="11.5"/>
<circle id="n231" class="o" cx="1078" cy="673" r="11.5"/><circle id="n232" class="o" cx="1043" cy="697" r="11.5"/><circle id="n233" class="b" cx="1010" cy="700" r="11.5"/><circle id="n234" class="p" cx="1006" cy="735" r="11.5"/><circle id="n235" class="o" cx="1025" cy="770" r="11.5"/><circle id="n236" class="b" cx="1007" cy="810" r="11.5"/><circle id="n237" class="o" cx="1034" cy="830" r="11.5"/><circle id="n238" class="g" cx="1067" cy="865" r="11.5"/><circle id="n239" class="g" cx="1048" cy="918" r="11.5"/><circle id="n240" class="p" cx="1095" cy="913" r="11.5"/>
<circle id="n241" class="o" cx="1020" cy="878" r="11.5"/><circle id="n242" class="b" cx="1006" cy="908" r="11.5"/><circle id="n243" class="o" cx="990" cy="908" r="11.5"/><circle id="n244" class="p" cx="993" cy="868" r="11.5"/><circle id="n245" class="b" cx="968" cy="838" r="11.5"/><circle id="n246" class="g" cx="953" cy="845" r="11.5"/><circle id="n247" class="b" cx="930" cy="804" r="11.5"/><circle id="n248" class="b" cx="917" cy="828" r="11.5"/><circle id="n249" class="Y" cx="904" cy="756" r="11.5"/><circle id="n250" class="o" cx="893" cy="733" r="11.5"/>
<circle id="n251" class="o" cx="912" cy="711" r="11.5"/><circle id="n252" class="o" cx="800" cy="800" r="11.5"/><circle id="n253" class="o" cx="798" cy="770" r="11.5"/><circle id="n254" class="o" cx="802" cy="730" r="11.5"/><circle id="n255" class="o" cx="783" cy="710" r="11.5"/><circle id="n256" class="o" cx="828" cy="833" r="11.5"/><circle id="n257" class="o" cx="824" cy="852" r="11.5"/><circle id="n258" class="o" cx="819" cy="876" r="11.5"/><circle id="n259" class="o" cx="820" cy="890" r="11.5"/><circle id="n260" class="g" cx="804" cy="898" r="11.5"/>
<circle id="n261" class="t" cx="823" cy="912" r="11.5"/><circle id="n262" class="p" cx="855" cy="860" r="11.5"/><circle id="n263" class="o" cx="772" cy="895" r="11.5"/><circle id="n264" class="o" cx="770" cy="918" r="11.5"/><circle id="n265" class="o" cx="780" cy="938" r="11.5"/><circle id="n266" class="g" cx="735" cy="917" r="11.5"/><circle id="n267" class="o" cx="750" cy="1013" r="11.5"/><circle id="n268" class="p" cx="796" cy="1018" r="11.5"/><circle id="n269" class="b" cx="843" cy="1068" r="11.5"/><circle id="n270" class="b" cx="863" cy="1020" r="11.5"/>
<circle id="n271" class="b" cx="918" cy="1020" r="11.5"/><circle id="n272" class="b" cx="917" cy="1002" r="11.5"/><circle id="n273" class="b" cx="926" cy="960" r="11.5"/><circle id="n274" class="b" cx="948" cy="970" r="11.5"/><circle id="n275" class="b" cx="963" cy="955" r="11.5"/><circle id="n276" class="b" cx="965" cy="1018" r="11.5"/><circle id="n277" class="p" cx="987" cy="1030" r="11.5"/><circle id="n278" class="b" cx="985" cy="1012" r="11.5"/><circle id="n279" class="b" cx="955" cy="1000" r="11.5"/><circle id="n280" class="b" cx="1010" cy="1012" r="11.5"/>
<circle id="n281" class="b" cx="1070" cy="1018" r="11.5"/><circle id="n282" class="b" cx="1097" cy="1024" r="11.5"/><circle id="n283" class="G" cx="1075" cy="1038" r="11.5"/><circle id="n284" class="b" cx="1129" cy="1083" r="11.5"/><circle id="n285" class="b" cx="1122" cy="1131" r="11.5"/><circle id="n286" class="b" cx="1007" cy="1182" r="11.5"/><circle id="n287" class="b" cx="909" cy="1105" r="11.5"/><circle id="n288" class="b" cx="870" cy="1222" r="11.5"/><circle id="n289" class="b" cx="827" cy="1143" r="11.5"/><circle id="n290" class="b" cx="768" cy="1123" r="11.5"/>
<circle id="n291" class="b" cx="709" cy="1158" r="11.5"/><circle id="n292" class="p" cx="723" cy="1045" r="11.5"/><circle id="n293" class="o" cx="678" cy="1040" r="11.5"/><circle id="n294" class="b" cx="662" cy="1018" r="11.5"/><circle id="n295" class="b" cx="617" cy="1009" r="11.5"/><circle id="n296" class="o" cx="662" cy="963" r="11.5"/><circle id="n297" class="b" cx="555" cy="988" r="11.5"/><circle id="n298" class="o" cx="551" cy="1018" r="11.5"/><circle id="n299" class="o" cx="573" cy="945" r="11.5"/><circle id="n300" class="o" cx="536" cy="938" r="11.5"/>
<circle id="n301" class="b" cx="520" cy="970" r="11.5"/><circle id="n302" class="G" cx="520" cy="900" r="11.5"/><circle id="n303" class="b" cx="487" cy="885" r="11.5"/><circle id="n304" class="b" cx="485" cy="850" r="11.5"/><circle id="n305" class="b" cx="410" cy="903" r="11.5"/><circle id="n306" class="p" cx="420" cy="828" r="11.5"/><circle id="n307" class="p" cx="473" cy="813" r="11.5"/><circle id="n308" class="b" cx="433" cy="765" r="11.5"/><circle id="n309" class="t" cx="475" cy="781" r="11.5"/><circle id="n310" class="b" cx="511" cy="771" r="11.5"/>
<circle id="n311" class="o" cx="540" cy="800" r="11.5"/><circle id="n312" class="o" cx="566" cy="800" r="11.5"/><circle id="n313" class="o" cx="577" cy="878" r="11.5"/><circle id="n314" class="p" cx="585" cy="852" r="11.5"/><circle id="n315" class="o" cx="600" cy="770" r="11.5"/><circle id="n316" class="o" cx="630" cy="790" r="11.5"/><circle id="n317" class="p" cx="702" cy="795" r="11.5"/><circle id="n318" class="o" cx="688" cy="818" r="11.5"/><circle id="n319" class="G" cx="488" cy="1050" r="11.5"/><circle id="n320" class="b" cx="446" cy="1045" r="11.5"/>
<circle id="n321" class="b" cx="446" cy="1072" r="11.5"/><circle id="n322" class="b" cx="533" cy="1083" r="11.5"/><circle id="n323" class="p" cx="506" cy="1128" r="11.5"/><circle id="n324" class="b" cx="586" cy="1112" r="11.5"/><circle id="n325" class="y" cx="307" cy="771" r="11.5"/><circle id="n326" class="o" cx="268" cy="706" r="11.5"/><circle id="n327" class="b" cx="280" cy="717" r="11.5"/><circle id="n328" class="b" cx="146" cy="681" r="11.5"/><circle id="n329" class="b" cx="112" cy="735" r="11.5"/><circle id="n330" class="b" cx="22" cy="785" r="11.5"/>
<circle id="n331" class="b" cx="133" cy="785" r="11.5"/><circle id="n332" class="b" cx="186" cy="795" r="11.5"/><circle id="n333" class="b" cx="166" cy="853" r="11.5"/><circle id="n334" class="b" cx="217" cy="863" r="11.5"/><circle id="n335" class="b" cx="231" cy="918" r="11.5"/><circle id="n336" class="b" cx="318" cy="866" r="11.5"/><circle id="n337" class="b" cx="287" cy="995" r="11.5"/><circle id="n338" class="p" cx="445" cy="696" r="11.5"/><circle id="n339" class="b" cx="474" cy="708" r="11.5"/><circle id="n340" class="t" cx="384" cy="728" r="11.5"/>
<circle id="n341" class="o" cx="1215" cy="880" r="11.5"/><circle id="n342" class="b" cx="1213" cy="958" r="11.5"/><circle id="n343" class="G" cx="1208" cy="912" r="11.5"/><circle id="n344" class="o" cx="1249" cy="915" r="11.5"/><circle id="n345" class="o" cx="1263" cy="867" r="11.5"/><circle id="n346" class="o" cx="1245" cy="848" r="11.5"/><circle id="n347" class="b" cx="1267" cy="829" r="11.5"/><circle id="n348" class="o" cx="1206" cy="815" r="11.5"/><circle id="n349" class="o" cx="1157" cy="920" r="11.5"/><circle id="n350" class="b" cx="1163" cy="968" r="11.5"/>
<circle id="n351" class="G" cx="1338" cy="945" r="11.5"/>
</g>
<g id="legend">
<text class="lg" x="152" y="1116">Degree</text>
<rect x="33" y="1128" width="322" height="24" fill="url(#deg)"/>
<text class="lg" x="33" y="1183">Low</text>
<text class="lg" x="304" y="1183">High</text>
</g>
</g>
</svg>
